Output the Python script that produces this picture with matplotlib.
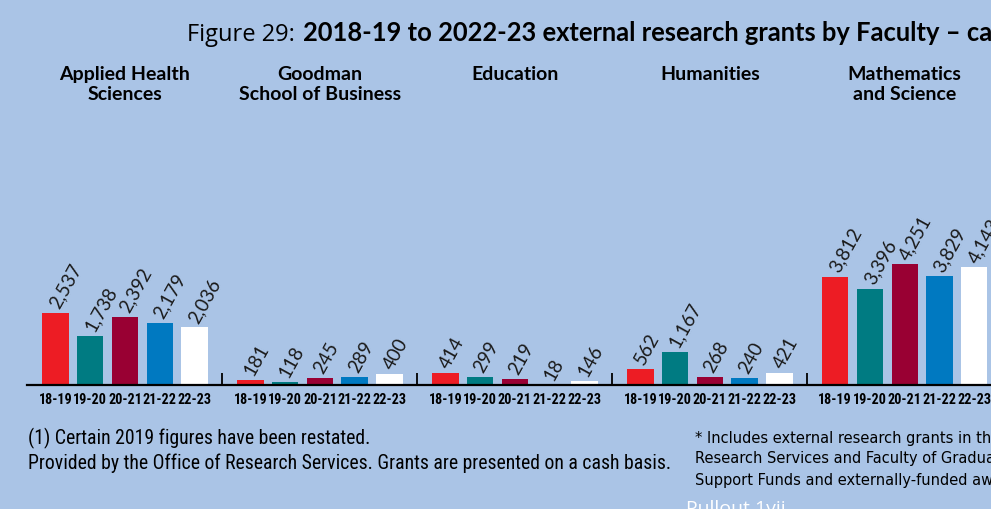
import matplotlib
matplotlib.use("Agg")
import matplotlib.pyplot as plt
import matplotlib.transforms as mtransforms
from matplotlib import font_manager

# grants by faculty, thousands of dollars
faculties = ["Applied Health\nSciences", "Goodman\nSchool of Business", "Education",
             "Humanities", "Mathematics\nand Science"]
years = ["18-19", "19-20", "20-21", "21-22", "22-23"]
applied_health = [2537, 1738, 2392, 2179, 2036]
goodman = [181, 118, 245, 289, 400]
education = [414, 299, 219, 18, 146]
humanities = [562, 1167, 268, 240, 421]
math_science = [3812, 3396, 4251, 3829, 4143]

year_colors = ["#ED1C24", "#007B82", "#990033", "#0079C1", "#FFFFFF"]
BG = "#AAC4E6"


def pick(*names):
    have = {f.name for f in font_manager.fontManager.ttflist}
    for n in names:
        if n in have:
            return n
    return "DejaVu Sans"


narrow = pick("Roboto Condensed", "Liberation Sans Narrow", "Open Sans Condensed", "Roboto")
sans = pick("Lato", "Open Sans", "Roboto")
open_sans = pick("Open Sans", "Lato")

W, H = 991, 509
fig = plt.figure(figsize=(W / 100, H / 100), dpi=100, facecolor=BG)


def fx(px):
    return px / W


def fy(py):
    return 1 - py / H


# layout in pixels
left, base = 27, 385
unit = 34.75          # px between bars
gstep = 5.61          # bars between group starts
ppv = 0.0284          # px per value unit
ymax = 4500

ax = fig.add_axes([fx(left), fy(base), 1 - fx(left), ymax * ppv / H])
ax.set_facecolor("none")
x0 = -(55.5 - left) / unit
ax.set_xlim(x0, x0 + (W - left) / unit)
ax.set_ylim(0, ymax)
for s in ["top", "right", "left"]:
    ax.spines[s].set_visible(False)
ax.spines["bottom"].set_linewidth(1.6)
ax.spines["bottom"].set_color("black")
ax.set_yticks([])

hdr = mtransforms.blended_transform_factory(ax.transData, fig.transFigure)

series = [applied_health, goodman, education, humanities, math_science]
all_x, all_lab = [], []
for g, vals in enumerate(series):
    xs = [g * gstep + i for i in range(len(years))]
    ax.bar(xs, vals, width=0.76, color=year_colors, zorder=2)
    for x, v in zip(xs, vals):
        ax.annotate(f"{v:,}", (x, v), xytext=(-1, 4), textcoords="offset points",
                    rotation=61, rotation_mode="anchor", ha="left", va="center",
                    fontsize=13.5, family=sans, color="#1a1a1a")
    all_x += xs
    all_lab += years
    ax.text(g * gstep + 2, fy(66), faculties[g], transform=hdr, ha="center", va="top",
            fontsize=14, fontweight="bold", family=sans, linespacing=1.22)
    if g < len(series) - 1:
        sep = g * gstep + 4 + (gstep - 4) / 2
        ax.vlines(sep, 0, 12 / ppv, color="black", lw=1.3)

ax.set_xticks(all_x, all_lab)
ax.tick_params(axis="x", length=0, pad=5.5)
for t in ax.get_xticklabels():
    t.set_fontfamily(narrow)
    t.set_fontweight("bold")
    t.set_fontsize(10.2)

# title, regular lead-in then bold text on the same baseline
t1 = fig.text(fx(187), fy(41), "Figure 29: ", fontsize=17, family=open_sans, va="baseline")
renderer = fig.canvas.get_renderer()
x_end = t1.get_window_extent(renderer).x1
fig.text(x_end / W + fx(2), fy(41),
         "2018-19 to 2022-23 external research grants by Faculty \u2013 cash basis",
         fontsize=18.4, fontweight="bold", family=sans, va="baseline", ha="left")

# notes
fig.text(fx(28), fy(438), "(1) Certain 2019 figures have been restated.",
         fontsize=14.2, family=narrow, va="center")
fig.text(fx(28), fy(463),
         "Provided by the Office of Research Services. Grants are presented on a cash basis.",
         fontsize=14.2, family=narrow, va="center")
fig.text(fx(695), fy(438), "* Includes external research grants in the Office of",
         fontsize=10.5, family="DejaVu Sans", va="center")
fig.text(fx(695), fy(459), "Research Services and Faculty of Graduate Studies",
         fontsize=10.5, family="DejaVu Sans", va="center")
fig.text(fx(695), fy(480), "Support Funds and externally-funded awards.",
         fontsize=10.5, family="DejaVu Sans", va="center")
fig.text(fx(686), fy(500), "Pullout 1vii", fontsize=14, family=open_sans, va="top",
         color="white")

fig.savefig("out.png", dpi=100, facecolor=BG)
